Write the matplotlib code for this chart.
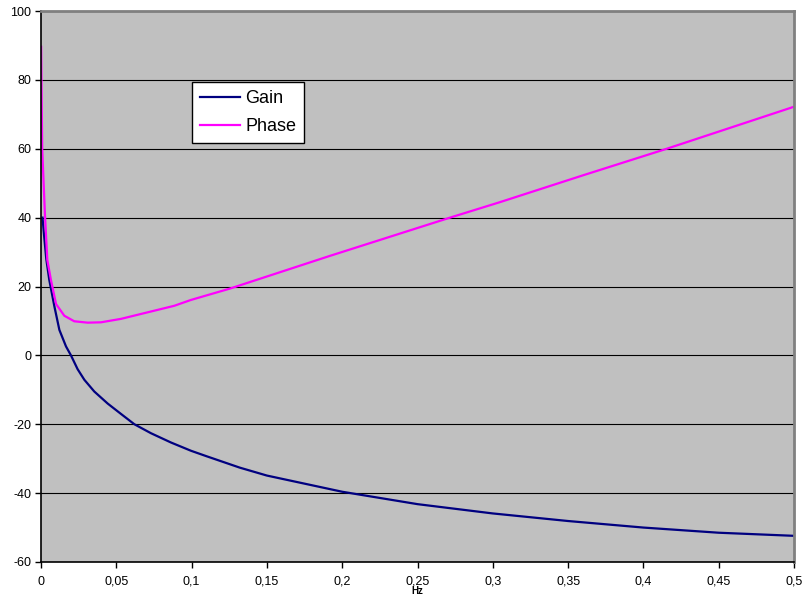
import matplotlib
matplotlib.use('Agg')
import matplotlib.pyplot as plt

plt.rcParams['font.family'] = ['Liberation Sans', 'DejaVu Sans']
plt.rcParams['axes.unicode_minus'] = False

# Gain curve
gain_x = [0.001, 0.002, 0.0035, 0.0055, 0.0089, 0.0122, 0.0166, 0.0199, 0.0243,
          0.0288, 0.0354, 0.0443, 0.0531, 0.062, 0.073, 0.0863, 0.0996, 0.110,
          0.132, 0.15, 0.2, 0.25, 0.3, 0.35, 0.4, 0.45, 0.5]
gain_y = [40, 35, 28, 21.9, 14.2, 7.4, 2.6, 0, -4.0,
          -7.1, -10.5, -14.0, -17.0, -20, -22.6, -25.3, -27.7, -29.3,
          -32.6, -34.9, -39.6, -43.2, -45.9, -48.1, -50.0, -51.5, -52.4]

# Phase curve
phase_x = [0.0001, 0.0003, 0.0008, 0.0026, 0.0042, 0.0066, 0.010, 0.0155, 0.0221,
           0.031, 0.0398, 0.0531, 0.0708, 0.0885, 0.0996, 0.1255, 0.1919,
           0.2716, 0.3048, 0.360, 0.4155, 0.5]
phase_y = [89.6, 80, 60, 41, 27.7, 21.9, 14.9, 11.5, 9.9,
           9.5, 9.6, 10.6, 12.5, 14.4, 16.1, 19.4, 28.9,
           40, 44.5, 52.3, 60, 72.2]

x_ticks = [0, 0.05, 0.1, 0.15, 0.2, 0.25, 0.3, 0.35, 0.4, 0.45, 0.5]
x_labels = ['0', '0,05', '0,1', '0,15', '0,2', '0,25', '0,3', '0,35', '0,4', '0,45', '0,5']
y_ticks = [-60, -40, -20, 0, 20, 40, 60, 80, 100]

fig = plt.figure(figsize=(8.06, 6.08), dpi=100)
ax = fig.add_axes([41 / 806, 1 - 562 / 608, 753 / 806, 551 / 608])
ax.set_facecolor('#C0C0C0')

ax.plot(gain_x, gain_y, color='#000080', lw=1.6, label='Gain')
ax.plot(phase_x, phase_y, color='#FF00FF', lw=1.6, label='Phase')

ax.set_xlim(0, 0.5)
ax.set_ylim(-60, 100)
ax.set_xticks(x_ticks)
ax.set_xticklabels(x_labels)
ax.set_yticks(y_ticks)
ax.tick_params(direction='out', length=4, width=1, labelsize=9, color='black')
ax.tick_params(axis='x', pad=6)
ax.tick_params(axis='y', pad=3)
ax.yaxis.grid(True, color='black', lw=0.8)
ax.set_axisbelow(True)

for s in ['left', 'bottom']:
    ax.spines[s].set_color('black')
    ax.spines[s].set_linewidth(1.2)
for s in ['top', 'right']:
    ax.spines[s].set_color('#808080')
    ax.spines[s].set_linewidth(2)

ax.set_xlabel('Hz', fontsize=7, fontweight='bold', labelpad=-1)

leg = ax.legend(loc='upper left', bbox_to_anchor=((192 - 41) / 753, (562 - 82) / 551),
                borderaxespad=0, fancybox=False, framealpha=1, edgecolor='black',
                fontsize=13, handlelength=2.2, handletextpad=0.3, borderpad=0.45,
                labelspacing=0.6)
leg.get_frame().set_linewidth(1)

fig.savefig('out.png', dpi=100)
